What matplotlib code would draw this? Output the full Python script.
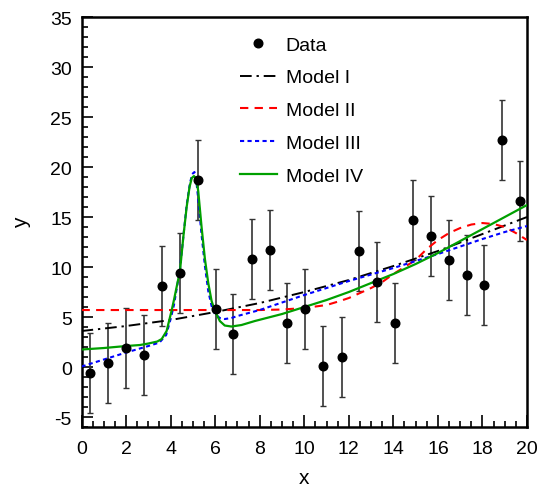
"""Data points with four fitted models (ROOT-style frame)."""
import matplotlib
matplotlib.use("Agg")
import matplotlib.pyplot as plt
from matplotlib.ticker import MultipleLocator

plt.rcParams["font.family"] = ["Liberation Sans", "DejaVu Sans"]
plt.rcParams["axes.unicode_minus"] = False

# measured points, all with +-4 errors
data_x = [0.40, 1.20, 2.00, 2.82, 3.63, 4.42, 5.22, 6.03, 6.82, 7.64, 8.45, 9.24, 10.04,
          10.86, 11.68, 12.47, 13.28, 14.09, 14.89, 15.68, 16.50, 17.29, 18.09, 18.90, 19.69]
data_y = [-0.6, 0.4, 1.9, 1.2, 8.1, 9.4, 18.7, 5.8, 3.3, 10.8, 11.7, 4.4, 5.85,
          0.13, 0.97, 11.57, 8.5, 4.37, 14.7, 13.07, 10.7, 9.23, 8.23, 22.73, 16.57]
data_err = [4.0] * 25

# Model I (black dash-dot)
m1_x = [0, 2, 4, 6, 8, 10, 12, 14, 16, 18, 20]
m1_y = [3.6, 4.1, 4.7, 5.5, 6.4, 7.5, 8.7, 10.1, 11.6, 13.3, 15.0]

# Model II (red dashed)
m2_x = [0, 2, 4, 6, 8, 9, 10, 11, 11.6, 12, 12.5, 13, 13.5, 14, 14.5, 15, 15.5,
        16, 16.5, 17, 17.5, 18, 18.5, 19, 19.5, 20]
m2_y = [5.7, 5.7, 5.7, 5.7, 5.7, 5.75, 5.9, 6.2, 6.6, 6.9, 7.4, 7.9, 8.5, 9.3, 10.0,
        10.7, 11.8, 12.7, 13.4, 13.9, 14.25, 14.4, 14.3, 14.0, 13.4, 12.7]

# Model III (blue dotted)
m3_x = [0, 1, 2, 3, 3.5, 3.8, 4.0, 4.15, 4.27, 4.42, 4.57, 4.72, 4.87, 4.97, 5.07,
        5.15, 5.24, 5.39, 5.54, 5.69, 5.84, 5.99, 6.21, 6.43, 6.73, 7, 8, 10, 12, 14,
        16, 18, 19, 20]
m3_y = [0.05, 0.75, 1.45, 2.1, 2.45, 3.2, 4.8, 6.2, 7.8, 9.8, 13.0, 16.2, 18.4, 19.3,
        19.5, 18.7, 16.8, 13.2, 10.1, 7.6, 6.1, 5.3, 4.9, 4.8, 4.9, 5.1, 5.7, 7.2, 8.6,
        9.9, 11.3, 12.8, 13.5, 14.1]

# Model IV (green solid)
m4_x = [0, 1, 2, 2.62, 3.0, 3.4, 3.6, 3.82, 4.04, 4.15, 4.27, 4.42, 4.57, 4.72, 4.85,
        4.95, 5.05, 5.15, 5.24, 5.39, 5.54, 5.69, 5.84, 5.99, 6.21, 6.43, 6.73, 7.18,
        7.78, 9, 10, 11, 12, 13, 14, 15, 16, 17, 18, 19, 20]
m4_y = [1.75, 1.9, 2.1, 2.2, 2.35, 2.55, 2.8, 3.6, 5.6, 6.7, 8.0, 9.6, 13.0, 16.0, 18.0,
        18.9, 19.1, 18.8, 17.6, 14.0, 10.8, 8.4, 6.6, 5.6, 4.6, 4.15, 4.05, 4.2,
        4.6, 5.3, 6.0, 6.7, 7.5, 8.4, 9.3, 10.3, 11.4, 12.6, 13.8, 15.0, 16.2]

fig = plt.figure(figsize=(5.46, 4.89), dpi=100)
ax = fig.add_axes([0.1493, 0.1247, 0.8159, 0.8384])

ax.errorbar(data_x, data_y, yerr=data_err, fmt="none", ecolor="#333333",
            elinewidth=1.2, capsize=2.5, capthick=1.0, zorder=2)
h0, = ax.plot(data_x, data_y, "o", color="black", markersize=6.2, label="Data", zorder=5)
h1, = ax.plot(m1_x, m1_y, color="black", lw=1.4, dashes=(6, 2.5, 1.2, 2.5),
              label="Model I", zorder=3)
h2, = ax.plot(m2_x, m2_y, color="#ff0000", lw=1.5, dashes=(4, 3),
              label="Model II", zorder=3)
h3, = ax.plot(m3_x, m3_y, color="#0000ff", lw=1.5, dashes=(2, 1.6),
              label="Model III", zorder=3)
h4, = ax.plot(m4_x, m4_y, color="#00a000", lw=1.6, label="Model IV", zorder=4)

ax.set_xlim(0, 20)
ax.set_ylim(-6, 35)
ax.xaxis.set_major_locator(MultipleLocator(2))
ax.xaxis.set_minor_locator(MultipleLocator(0.5))
ax.yaxis.set_major_locator(MultipleLocator(5))
ax.yaxis.set_minor_locator(MultipleLocator(1))
ax.tick_params(which="both", direction="in", top=False, right=False,
               labelsize=14, width=1.2)
ax.tick_params(axis="x", which="major", length=9, pad=9)
ax.tick_params(axis="y", which="major", length=8, pad=7)
ax.tick_params(which="minor", length=4.5)
for sp in ax.spines.values():
    sp.set_linewidth(1.8)

ax.set_xlabel("x", fontsize=15, labelpad=8)
ax.set_ylabel("y", fontsize=15, labelpad=14)

leg = ax.legend(handles=[h0, h1, h2, h3, h4], loc="upper left", frameon=False,
                fontsize=14, handlelength=1.9, handletextpad=0.45,
                labelspacing=0.78, borderpad=0, borderaxespad=0,
                bbox_to_anchor=(240 / 546, 1 - 37 / 489),
                bbox_transform=fig.transFigure)

fig.savefig("out.png", dpi=100)
